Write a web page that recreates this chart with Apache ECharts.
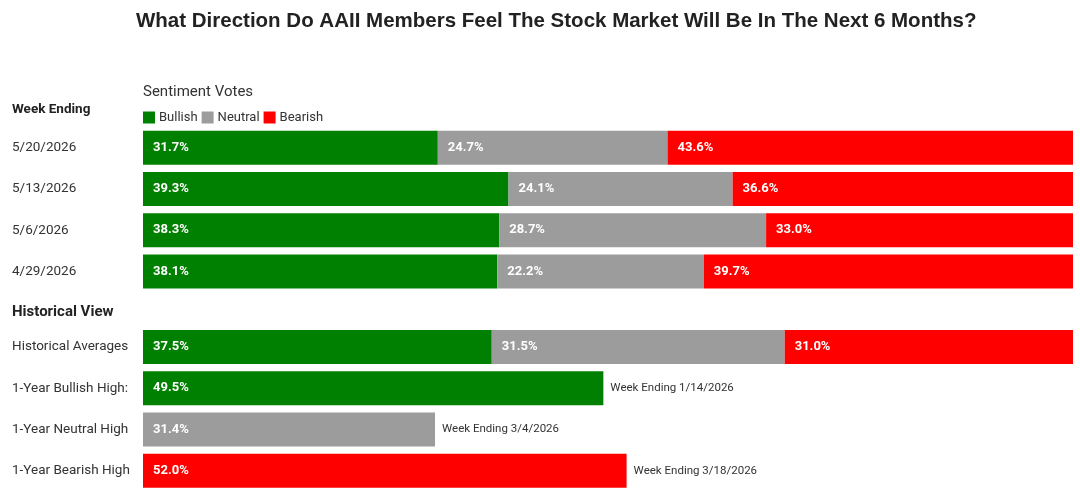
<!DOCTYPE html>
<html>
<head>
<meta charset="utf-8">
<script src="https://cdn.jsdelivr.net/npm/echarts@6/dist/echarts.min.js"></script>
<style>html,body{margin:0;padding:0;background:#fff;}#main{width:1080px;height:498px;}</style>
</head>
<body>
<div id="main"></div>
<script>
// ---- data ----
const weekCategories = ['5/20/2026', '5/13/2026', '5/6/2026', '4/29/2026'];
const weekBullish = [31.7, 39.3, 38.3, 38.1];
const weekNeutral = [24.7, 24.1, 28.7, 22.2];
const weekBearish = [43.6, 36.6, 33.0, 39.7];

const histCategories = ['Historical Averages', '1-Year Bullish High:', '1-Year Neutral High', '1-Year Bearish High'];
const histBullish = [37.5, 49.5, '-', '-'];
const histNeutral = [31.5, '-', 31.4, '-'];
const histBearish = [31.0, '-', '-', 52.0];
const histNotes = ['', 'Week Ending 1/14/2026', 'Week Ending 3/4/2026', 'Week Ending 3/18/2026'];

const seriesNames = ['Bullish', 'Neutral', 'Bearish'];
const colors = ['#008000', '#9c9c9c', '#ff0000'];

// ---- chart ----
const chart = echarts.init(document.getElementById('main'));
const font = 'Roboto, sans-serif';

function valLabel() {
  return {
    show: true, position: 'insideLeft', distance: 10,
    color: '#fff', fontWeight: 'bold', fontSize: 13, fontFamily: font,
    formatter: p => (typeof p.value === 'number' ? p.value.toFixed(1) + '%' : '')
  };
}

function barSeries(name, data, color, axisIdx, stack) {
  return {
    name: name, type: 'bar', stack: stack, data: data,
    xAxisIndex: axisIdx, yAxisIndex: axisIdx,
    barWidth: 34, itemStyle: { color: color },
    label: valLabel(), emphasis: { disabled: true }, animation: false
  };
}

const yAxisCommon = {
  type: 'category', inverse: true,
  axisLine: { show: false }, axisTick: { show: false },
  axisLabel: { align: 'left', margin: 131, color: '#333', fontSize: 13.5, fontFamily: font }
};
const xAxisCommon = { type: 'value', min: 0, max: 100, show: false };

const series = [];
for (let i = 0; i < 3; i++) {
  series.push(barSeries(seriesNames[i], [weekBullish, weekNeutral, weekBearish][i], colors[i], 0, 'w'));
}
for (let i = 0; i < 3; i++) {
  series.push(barSeries(seriesNames[i] + ' (hist)', [histBullish, histNeutral, histBearish][i], colors[i], 1, 'h'));
}
series.push({
  name: 'note', type: 'bar', stack: 'h', xAxisIndex: 1, yAxisIndex: 1,
  barWidth: 34, itemStyle: { color: 'transparent' },
  data: histNotes.map(n => (n ? 0 : '-')),
  label: {
    show: true, position: 'right', distance: 7, color: '#333', fontSize: 11.5, fontFamily: font,
    formatter: p => histNotes[p.dataIndex]
  },
  emphasis: { disabled: true }, animation: false
});

chart.setOption({
  animation: false,
  title: [
    { text: 'What Direction Do AAII Members Feel The Stock Market Will Be In The Next 6 Months?',
      left: 131, top: 6,
      textStyle: { fontFamily: '"Liberation Sans", Arial, sans-serif', fontSize: 20.5, fontWeight: 'bold', color: '#222' } },
    { text: 'Sentiment Votes', left: 138, top: 80,
      textStyle: { fontFamily: font, fontSize: 15, fontWeight: 'normal', color: '#333' } },
    { text: 'Week Ending', left: 7, top: 98,
      textStyle: { fontFamily: font, fontSize: 13.5, fontWeight: 'bold', color: '#222' } },
    { text: 'Historical View', left: 7, top: 300,
      textStyle: { fontFamily: font, fontSize: 15, fontWeight: 'bold', color: '#222' } }
  ],
  legend: {
    data: seriesNames, left: 138, top: 106,
    itemWidth: 12, itemHeight: 12, itemGap: 4, icon: 'rect',
    textStyle: { fontFamily: font, fontSize: 13, color: '#333', padding: [0, 0, 0, -1] },
    selectedMode: false
  },
  grid: [
    { left: 143, right: 7, top: 127, height: 165 },
    { left: 143, right: 7, top: 326.3, height: 165 }
  ],
  xAxis: [Object.assign({ gridIndex: 0 }, xAxisCommon), Object.assign({ gridIndex: 1 }, xAxisCommon)],
  yAxis: [
    Object.assign({ gridIndex: 0, data: weekCategories }, yAxisCommon),
    Object.assign({ gridIndex: 1, data: histCategories }, yAxisCommon)
  ],
  series: series
});
</script>
</body>
</html>
